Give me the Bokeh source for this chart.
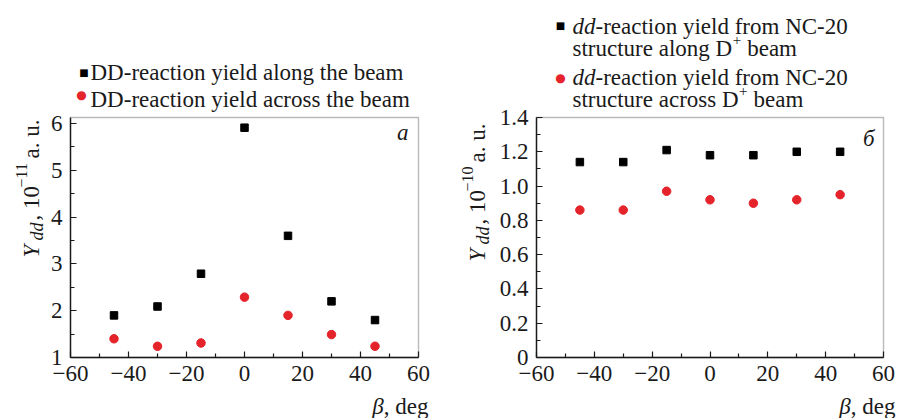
import math
from bokeh.plotting import figure
from bokeh.layouts import row
from bokeh.models import Label, FixedTicker, BoxAnnotation
from bokeh.embed import file_html
from bokeh.resources import INLINE

# ---------------- data ----------------
beta = [-45, -30, -15, 0, 15, 30, 45]
a_along = [1.90, 2.09, 2.79, 5.91, 3.60, 2.20, 1.80]
a_across = [1.40, 1.24, 1.31, 2.29, 1.90, 1.49, 1.24]
b_along = [1.14, 1.14, 1.21, 1.18, 1.18, 1.20, 1.20]
b_across = [0.86, 0.86, 0.97, 0.92, 0.90, 0.92, 0.95]

x_ticks = [-60, -40, -20, 0, 20, 40, 60]
x_tick_labels = ["\u221260", "\u221240", "\u221220", "0", "20", "40", "60"]
x_minor = [-50, -30, -10, 10, 30, 50]

a_y_ticks = [1, 2, 3, 4, 5, 6]
a_y_tick_labels = ["1", "2", "3", "4", "5", "6"]
a_y_minor = [1.5, 2.5, 3.5, 4.5, 5.5]

b_y_ticks = [0, 0.2, 0.4, 0.6, 0.8, 1.0, 1.2, 1.4]
b_y_tick_labels = ["0", "0.2", "0.4", "0.6", "0.8", "1.0", "1.2", "1.4"]
b_y_minor = [0.1, 0.3, 0.5, 0.7, 0.9, 1.1, 1.3]

a_legend = ["DD-reaction yield along the beam", "DD-reaction yield across the beam"]
b_legend_it = "dd"
b_legend_l1 = "-reaction yield from NC-20"
b_legend_l2 = ["structure along D", "structure across D"]

RED = "#e5232b"
INK = "#1a1a1a"
SERIF = "Liberation Serif"
FS = "23px"
H = 418
NB = "\u00a0"
SHIFT = 5  # empirical baseline correction (px)


def make_panel(width, bl, br, ylo, yhi, yt, ytl, ym):
    # plot box occupies px [bl, width-br] x [117, 357] of this canvas
    fw = width - bl - br
    sx = 120.0 / fw
    sy = (yhi - ylo) / 240.0
    xr = (-60 - bl * sx, 60 + br * sx)
    yr = (ylo - (H - 357) * sy, yhi + 117 * sy)
    p = figure(width=width, height=H, frame_width=width, frame_height=H,
               min_border=0, x_range=xr, y_range=yr,
               output_backend="svg", toolbar_location=None)
    p.grid.visible = False
    p.background_fill_color = "white"
    p.border_fill_color = "white"
    p.outline_line_color = None
    p.add_layout(BoxAnnotation(left=-60, right=60, bottom=ylo, top=yhi,
                               fill_color=None, line_color=INK, line_width=1.4))
    xa, ya = p.xaxis[0], p.yaxis[0]
    xa.fixed_location = ylo
    ya.fixed_location = -60
    xa.bounds = (-60, 60)
    ya.bounds = (ylo, yhi)
    for ax in (xa, ya):
        ax.axis_line_color = INK
        ax.axis_line_width = 1.4
        ax.major_tick_in = 6
        ax.major_tick_out = 0
        ax.minor_tick_in = 4
        ax.minor_tick_out = 0
        ax.major_tick_line_color = INK
        ax.minor_tick_line_color = INK
        ax.major_tick_line_width = 1.2
        ax.minor_tick_line_width = 1.2
        ax.major_label_text_font = SERIF
        ax.major_label_text_font_size = FS
        ax.major_label_text_color = INK
        ax.major_label_standoff = 8
    xa.ticker = FixedTicker(ticks=x_ticks, minor_ticks=x_minor)
    xa.major_label_overrides = dict(zip(x_ticks, x_tick_labels))
    ya.ticker = FixedTicker(ticks=yt, minor_ticks=ym)
    ya.major_label_overrides = dict(zip(yt, ytl))

    def txt(px, py, text, size=FS, style="normal", align="left",
            baseline="alphabetic", angle=0.0, color=INK, font=SERIF):
        if baseline == "alphabetic":
            if angle == 0.0:
                py -= SHIFT
            else:
                px -= SHIFT
        x = -60 + (px - bl) * sx
        y = ylo + (357 - py) * sy
        p.add_layout(Label(x=x, y=y, text=text, text_font=font,
                           text_font_size=size, text_font_style=style,
                           text_align=align, text_baseline=baseline,
                           angle=angle, text_color=color))
    return p, txt


def ylabel(txt, bx, y0, sup):
    R = math.pi / 2
    txt(bx, y0, "Y", style="italic", angle=R)
    txt(bx + 5, y0 - 17, "dd", size="18px", style="italic", angle=R)
    txt(bx, y0 - 37, ", 10", angle=R)
    txt(bx - 10, y0 - 70, sup, size="16px", angle=R)
    txt(bx, y0 - 99, "a." + NB + "u.", angle=R)


def xlabel(txt, xend):
    txt(xend, 411, ", deg", align="right")
    txt(xend - 44.7, 411, "\u03b2", style="italic", align="right")


# ---------------- panel a ----------------
pa, ta = make_panel(460, 70, 42, 1.0, 6.128, a_y_ticks, a_y_tick_labels, a_y_minor)
pa.scatter(beta, a_along, marker="square", size=7.5, color="black")
pa.scatter(beta, a_across, marker="circle", size=8.5, color=RED)

ta(83.5, 71.5, "\u25a0", size="10px", align="center", baseline="middle", color="black", font="DejaVu Sans")
ta(81, 94, "\u25cf", size="12px", align="center", baseline="middle", color=RED, font="DejaVu Sans")
ta(90, 77, a_legend[0])
ta(90, 104, a_legend[1])
ta(408, 137, "a", style="italic", align="right")
ylabel(ta, 36, 257, "\u221211")
xlabel(ta, 428)

# ---------------- panel b ----------------
pb, tb = make_panel(438, 76, 15, 0.0, 1.4, b_y_ticks, b_y_tick_labels, b_y_minor)
pb.scatter(beta, b_along, marker="square", size=7.5, color="black")
pb.scatter(beta, b_across, marker="circle", size=8.5, color=RED)

OX = 460
tb(560 - OX, 25, "\u25a0", size="10px", align="center", baseline="middle", color="black", font="DejaVu Sans")
tb(560 - OX, 77, "\u25cf", size="12px", align="center", baseline="middle", color=RED, font="DejaVu Sans")
for i, (b1, b2) in enumerate([(31, 53), (82, 104)]):
    tb(572 - OX, b1, b_legend_it, style="italic")
    tb(595 - OX, b1, b_legend_l1)
    w = 159.7 if i == 0 else 166.1
    tb(572 - OX, b2, b_legend_l2[i])
    tb(572 - OX + w + 0.5, b2 - 9, "+", size="15px")
    tb(572 - OX + w + 15.0, b2, "beam")
tb(874 - OX, 143, "\u0431", style="italic", align="right")
ylabel(tb, 482 - OX, 261, "\u221210")
xlabel(tb, 895 - OX)

layout = row(pa, pb)
open("out.html", "w").write(file_html(layout, INLINE))
